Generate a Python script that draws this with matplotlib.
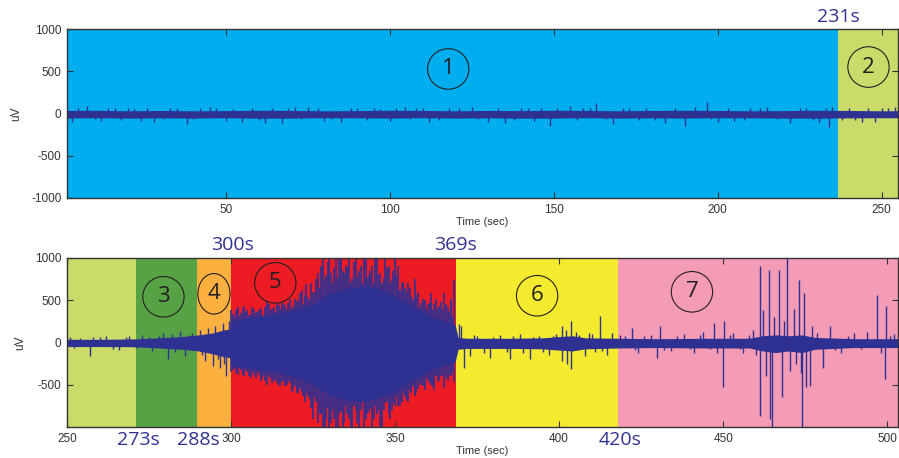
import numpy as np
import matplotlib.pyplot as plt
from matplotlib.patches import Ellipse

# colours of the stage bands
c_blue = '#00AEEF'
c_lime = '#CBDB69'
c_green = '#58A246'
c_orange = '#FBB040'
c_red = '#ED1C24'
c_yellow = '#F4EB2F'
c_pink = '#F49BB5'
c_trace = '#2E3192'

# stage boundaries (sec)
top_bounds = [0, 236.6, 260]
top_colors = [c_blue, c_lime]
bot_bounds = [250, 270.9, 289.6, 300, 368.6, 417.9, 510]
bot_colors = [c_lime, c_green, c_orange, c_red, c_yellow, c_pink]

# top trace: core band envelope (uV)
top_t = [0, 10, 20, 30, 40, 50, 60, 70, 80, 90, 100, 110, 120, 130, 140, 150,
         160, 170, 180, 190, 200, 210, 220, 230, 240, 250, 260]
top_hi = [35, 38, 32, 36, 32, 34, 38, 36, 32, 34, 38, 36, 32, 36, 34, 38,
          36, 32, 36, 38, 36, 32, 34, 38, 36, 32, 34]
top_lo = [-55, -50, -55, -52, -55, -50, -56, -55, -50, -52, -55, -50, -55, -52, -56, -55,
          -50, -55, -52, -55, -50, -52, -55, -56, -52, -50, -52]

# top trace: spikes (sec, uV)
top_spk_t = [3, 5, 7.5, 10, 12, 14, 16, 18, 20, 22, 24, 26, 28, 31, 33, 35, 38, 40, 42,
             45, 47, 50, 52, 55, 58, 60, 62, 64, 67, 69, 71, 73, 75, 78, 80, 82, 85,
             88, 90, 93, 95, 97, 100, 102, 104.6, 106, 108, 110, 112, 115, 118, 121,
             125, 127, 130, 133, 135, 138, 140, 142, 144, 146, 148.7, 151, 155, 157,
             159, 161, 163, 166, 168, 171, 173, 176, 178, 181, 184, 187, 190, 193,
             196.8, 198, 200, 203, 205, 208, 210, 213, 215, 218, 222, 225, 227, 229,
             231, 233, 234, 235, 238, 240, 242, 244, 246, 248, 250, 252, 254]
top_spk_v = [-100, 60, 85, -70, -90, 60, 65, -75, 70, 55, -85, 60, -95, -70, 70, 60,
             -125, -70, 65, 75, 60, -90, 55, -100, 70, -80, -115, 60, -115, 60, 75,
             -70, 80, 60, -85, -70, -95, 60, 65, -75, 70, 55, -90, 60, 80, -70, 70,
             60, -100, -75, 65, 60, 75, -70, -95, 60, -110, -75, 70, 60, -90, 65,
             -150, 60, 85, -75, 70, 60, 120, -70, -130, 60, 70, -75, 70, -80, -110,
             60, -145, 75, 140, -70, -95, 60, -90, -75, 70, 60, 80, -70, -110, 60,
             70, -80, -100, 65, -160, 80, -75, 70, -80, -95, 60, -100, 60, 65, 75]

# bottom trace: core band envelope (uV)
bot_t = [250, 260, 270, 275, 280, 285, 290, 294, 298, 299.8, 300.2, 305, 310, 315, 320,
         325, 330, 335, 340, 345, 350, 355, 360, 365, 368.3, 369.2, 372, 385, 395,
         400, 404, 408, 418, 430, 445, 458, 462, 466, 470, 474, 478, 490, 505]
bot_hi = [38, 38, 42, 50, 60, 70, 90, 110, 150, 160, 260, 290, 320, 350, 390,
          460, 580, 640, 670, 640, 550, 440, 330, 250, 210, 60, 50, 50, 55,
          70, 80, 55, 50, 45, 50, 50, 80, 90, 80, 90, 60, 45, 45]
bot_lo = [-48, -48, -50, -58, -70, -80, -100, -130, -170, -180, -270, -300, -330, -360, -420,
          -500, -620, -680, -700, -660, -580, -460, -350, -270, -230, -80, -70, -70, -75,
          -90, -100, -75, -65, -60, -65, -65, -100, -120, -100, -120, -80, -60, -60]

# bottom trace: isolated spikes outside the seizure (sec, uV)
bot_spk_t = [251, 252, 254, 257, 258, 260, 262, 264, 266, 268, 269, 271, 273, 275, 276,
             278, 279.3, 280.8, 282, 283, 284.5, 286, 287, 288,
             290.5, 291, 292, 293, 294.5, 295, 296, 296.6, 297.5, 298, 298.6, 299.5,
             369.5, 370, 371, 372.9, 374, 375, 377, 379, 380, 382, 384, 385, 386, 388,
             389, 391, 392, 394, 395, 397, 398, 399, 400.8, 401, 402, 402.5, 403.5,
             403.7, 405, 406, 408, 409, 410, 411, 412.5, 413, 414.5, 416,
             418.5, 420, 422.1, 423, 424, 426, 428, 429.8, 430.8, 432, 434, 436, 438,
             440, 441, 443, 444, 446, 447.1, 448, 450.1, 450.3, 452, 453, 455, 456,
             458, 459, 460, 461.1, 461.2, 462.1, 463, 464.1, 464.3, 464.8, 465.5, 466.9,
             467.9, 468.5, 469.6, 470.4, 471.5, 472.3, 473.2, 473.7, 474, 474.5, 475.4,
             476.4, 477.2, 478.5, 480.5, 482.5, 484, 486, 488, 490, 492, 494, 496.9,
             498, 499.4, 499.6, 501, 502]
bot_spk_v = [60, -70, 55, -160, 60, 70, 80, -75, -90, 60, 75, -70, 90, 70, -100,
             80, 110, -200, 100, -110, 133, -160, 90, 110,
             150, -150, -220, 170, -280, 200, -200, -300, 235, -250, -396, 260,
             220, 200, -300, -160, 90, 80, -120, -180, 70, 90, -110, -200, 80, 100,
             -120, -190, 70, 80, -110, -150, 80, 100, 190, -220, 150, -250, 250,
             -310, 120, 90, -160, 110, 100, -110, 310, -100, -150, 110,
             90, 80, 175, -90, -130, 80, 90, -180, 190, -90, -100, 80, 100,
             -80, -120, 90, 120, -80, 235, -130, -530, 250, 90, 110, -80, -120,
             90, 150, -150, 900, -865, 390, -400, 860, -905, -1000, 300, 860,
             -650, 250, 1000, -340, 400, -250, 740, -360, -1000, 590, -530,
             -510, 200, 115, -300, 190, -90, -120, 80, 110, -80, 130, 565,
             -120, -435, 427, 80, 100]

# bottom trace: seizure extremes, one reading per second from 300 s to 368 s
red_t = list(range(300, 369))
red_up = [390, 300, 420, 350, 430, 380, 320, 400, 360, 410, 300,
          486, 380, 420, 470, 400, 450, 380, 520, 430, 480,
          580, 450, 690, 500, 600, 750, 650,
          1000, 800, 1000, 700, 1000, 1000, 850, 900, 1000, 750, 1000, 850, 700,
          1000, 800, 900, 1000, 800, 700, 1000, 900, 750, 1000,
          900, 700, 650, 700, 550, 750, 600, 470, 500, 450, 590, 450, 400, 480,
          590, 420, 520, 740]
red_dn = [-350, -300, -380, -320, -400, -350, -420, -380, -350, -460, -400,
          -500, -420, -450, -480, -520, -450, -500, -480, -550, -600,
          -550, -630, -600, -670, -900, -700, -850,
          -1000, -900, -1000, -800, -1000, -850, -1000, -750, -900, -1000, -800,
          -1000, -700, -900, -825, -1000, -750, -800, -1000, -700, -850, -800, -750,
          -750, -700, -650, -700, -600, -630, -550, -500, -560, -450, -500, -560,
          -450, -400, -540, -450, -400, -470]
# second reading per second, at the half-second marks
red_t2 = [t + 0.5 for t in range(300, 368)]
red_up2 = [340, 380, 310, 400, 360, 330, 420, 350, 380, 330,
           420, 450, 400, 360, 440, 480, 420, 470, 400, 520,
           500, 620, 560, 540, 700, 580, 820,
           900, 750, 950, 820, 880, 760, 1000, 820, 900, 700, 950, 780,
           900, 1000, 760, 850, 700, 1000, 820, 760, 880, 700, 850,
           800, 620, 720, 600, 650, 520, 560, 420, 520, 400, 480, 380, 520,
           430, 380, 450, 360, 300]
red_dn2 = [-320, -360, -300, -380, -330, -400, -350, -420, -380, -420,
           -450, -400, -480, -430, -500, -470, -520, -460, -580, -520,
           -600, -580, -700, -640, -780, -650, -950,
           -850, -1000, -780, -950, -900, -1000, -820, -950, -850, -1000, -750,
           -950, -800, -1000, -850, -780, -900, -850, -1000, -800, -700, -900,
           -720, -650, -750, -600, -680, -560, -520, -600, -480, -520, -420,
           -480, -520, -400, -450, -380, -420, -380, -350]

circles_top = [('1', 117.8, 527), ('2', 246.0, 550)]
circles_bot = [('3', 279.4, 541), ('4', 294.8, 576), ('5', 313.5, 706),
               ('6', 393.3, 553), ('7', 440.5, 600)]

W, H = 899, 458
plt.rcParams['font.family'] = ['Liberation Sans', 'DejaVu Sans']
plt.rcParams['axes.unicode_minus'] = False
fig = plt.figure(figsize=(W / 100, H / 100), dpi=100)

ax1 = fig.add_axes([67 / W, 1 - 198 / H, 831 / W, 169 / H])
ax2 = fig.add_axes([67 / W, 1 - 427 / H, 831 / W, 169 / H])


def draw_panel(ax, bounds, colors, t, hi, lo, spk_t, spk_v, xlim, xticks, yticks, circles):
    for i, col in enumerate(colors):
        ax.axvspan(bounds[i], bounds[i + 1], color=col, lw=0, zorder=0)
    ax.fill_between(t, lo, hi, color=c_trace, lw=0, zorder=2)
    ax.vlines(spk_t, 0, spk_v, color=c_trace, lw=1.0, zorder=2)
    ax.set_xlim(*xlim)
    ax.set_ylim(-1000, 1000)
    ax.set_xticks(xticks)
    ax.set_yticks(yticks)
    ax.tick_params(direction='in', length=4, width=0.8, top=True, right=True,
                   labelsize=8.5, colors='#333333', pad=4)
    for s in ax.spines.values():
        s.set_color('#333333')
        s.set_linewidth(1.0)
        s.set_zorder(5)
    ax.set_xlabel('Time (sec)', fontsize=8, color='#333333', labelpad=1)
    ax.set_ylabel('uV', fontsize=8.5, color='#333333', labelpad=6)
    for lab, cx, cy in circles:
        w = 12.6 if lab != '4' else 9.8
        ax.add_patch(Ellipse((cx, cy), w, 480, fill=False, ec='#231F20', lw=0.8, zorder=4))
        ax.text(cx, cy, lab, ha='center', va='center', fontsize=16,
                family='Open Sans', color='#231F20', zorder=4)


draw_panel(ax1, top_bounds, top_colors, top_t, top_hi, top_lo, top_spk_t, top_spk_v,
           (1.5, 255), [50, 100, 150, 200, 250], [-1000, -500, 0, 500, 1000],
           circles_top)
draw_panel(ax2, bot_bounds, bot_colors, bot_t, bot_hi, bot_lo, bot_spk_t, bot_spk_v,
           (250, 503.3), [250, 300, 350, 400, 450, 500], [-500, 0, 500, 1000],
           circles_bot)
# dense seizure discharge
ax2.vlines(red_t, red_dn, red_up, color=c_trace, lw=1.2, zorder=2)
ax2.vlines(red_t2, red_dn2, red_up2, color=c_trace, lw=1.2, zorder=2)

# time stamp labels
stamps = [('231s', 838, 17), ('300s', 232, 245), ('369s', 455, 245),
          ('273s', 138, 440), ('288s', 198, 440), ('420s', 620, 440)]
for lab, px, py in stamps:
    fig.text(px / W, 1 - py / H, lab, ha='center', va='center', fontsize=14,
             family='Open Sans', color=c_trace)

plt.savefig('out.png', dpi=100)
